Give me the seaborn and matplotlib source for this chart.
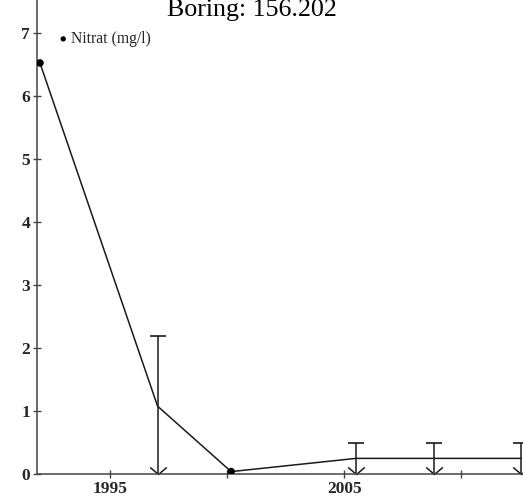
import numpy as np
import pandas as pd
import matplotlib
matplotlib.use("Agg")
import matplotlib.pyplot as plt
from matplotlib.path import Path
import seaborn as sns

# sampling dates (decimal years) and nitrate values
years = [1992.01, 1997.03, 2000.17, 2005.50, 2008.83, 2012.55]
nitrat = [6.52, 1.07, 0.03, 0.24, 0.24, 0.24]
detected = [True, False, True, False, False, False]
upper = [6.52, 2.19, 0.03, 0.48, 0.48, 0.48]

tick_years = [1995, 2000, 2005, 2010]
tick_labels = ["1995", "", "2005", ""]

df = pd.DataFrame({"year": years, "nitrat": nitrat, "detected": detected, "upper": upper})

sns.set_style("ticks")
plt.rcParams["font.family"] = ["Liberation Serif", "DejaVu Serif"]

fig = plt.figure(figsize=(5.23, 4.99), dpi=100)
ax = fig.add_axes([37 / 523, 25.5 / 499, 1 - 37 / 523, 473.5 / 499])

line_col = "#1a1a1a"

# connecting line
sns.lineplot(data=df, x="year", y="nitrat", ax=ax, color=line_col, lw=1.1,
             estimator=None, sort=False)

# detected samples as dots
det = df[df["detected"]]
sns.scatterplot(data=det, x="year", y="nitrat", ax=ax, color="black", s=30,
                edgecolor="none", zorder=5, label="Nitrat (mg/l)")

# below detection limit: bar from 0 up to limit, with cap and down arrow
lim = df[~df["detected"]]
ax.vlines(lim["year"], 0, lim["upper"], color=line_col, lw=1.1)
ax.plot(lim["year"], lim["upper"], ls="none", marker="_", ms=12, mew=1.2, color=line_col)
arrow = Path([(-1, 0.85), (0, 0), (1, 0.85)], [Path.MOVETO, Path.LINETO, Path.LINETO])
ax.plot(lim["year"], np.zeros(len(lim)), ls="none", marker=arrow, ms=12,
        mew=1.1, mfc="none", mec=line_col, clip_on=False)

ax.set_xlim(1991.884, 2012.63)
ax.set_ylim(0, 7.52)
ax.set_xticks(tick_years)
ax.set_xticklabels(tick_labels)
ax.set_yticks(range(0, 8))
ax.set_xlabel("")
ax.set_ylabel("")

ax.tick_params(axis="both", direction="inout", length=6, width=1.0, color="#444444",
               labelsize=12.5)
ax.tick_params(axis="x", pad=2.5)
ax.tick_params(axis="y", pad=2)
for lab in ax.get_xticklabels() + ax.get_yticklabels():
    lab.set_fontweight("bold")

sns.despine(ax=ax)
for sp in ["left", "bottom"]:
    ax.spines[sp].set_color("#444444")
    ax.spines[sp].set_linewidth(1.1)

leg = ax.legend(loc="center left", bbox_to_anchor=(58.5 / 523, 1 - 39 / 499),
                bbox_transform=fig.transFigure, frameon=False,
                fontsize=11.3, handletextpad=0.22, handlelength=0.6,
                markerscale=0.7, borderaxespad=0, borderpad=0)

fig.text(252 / 523, 1 - 16 / 499, "Boring: 156.202", ha="center", va="baseline",
         fontsize=18.7, color="black")

fig.savefig("out.png", dpi=100)
